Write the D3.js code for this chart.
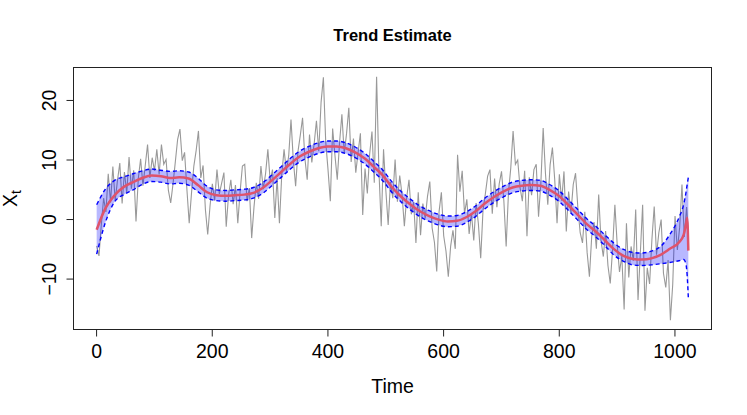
<!DOCTYPE html>
<meta charset="utf-8">
<style>
  body { margin: 0; background: #fff; }
  text { font-family: "Liberation Sans", Arial, Helvetica, sans-serif; fill: #000; }
</style>
<body>
<script src="https://d3js.org/d3.v7.min.js"></script>
<script>
// observed series, sampled every 4 time steps (last point at t = 1024)
var obsValues = [
  -4.5, -6.2, -1.0, 3.5, 1.2, 7.6, 2.8, 8.8, 3.1, 6.5, 9.4, 2.6, 7.9, 4.4, 10.4, 5.1,
  8.2, -0.4, 6.8, 10.1, 5.6, 9.0, 12.5, 6.9, 10.3, 8.1, 11.7, 7.5, 12.5, 9.2, 10.0, 4.8,
  2.7, 5.9, 9.6, 13.4, 15.1, 9.8, 11.2, 5.0, -0.7, 4.4, 8.9, 11.5, 14.8, 6.9, 9.0, 1.6,
  -2.6, 2.2, 5.9, 3.1, 8.3, 4.2, 6.0, 7.8, -1.3, 4.0, 6.6, 2.5, 5.7, -0.7, 4.6, 8.9,
  9.2, 3.0, 5.2, -3.2, 2.0, 6.1, 3.4, 8.9, 5.0, 7.6, 11.7, 6.4, 8.3, 0.2, 6.9, -0.7,
  7.4, 11.7, 8.0, 10.6, 16.7, 9.9, 5.5, 11.3, 14.0, 17.0, 10.2, 6.6, 14.2, 9.5, 12.6, 16.5,
  11.4, 19.6, 23.8, 13.0, 8.3, 3.0, 15.2, 10.7, 6.6, 12.9, 17.6, 11.0, 14.3, 18.7, 9.6, 13.5,
  7.8, 11.2, 14.4, 0.7, 8.5, 4.3, 10.9, 14.7, 6.1, 23.9, 8.2, -1.2, 11.7, 4.8, -1.0, 6.2,
  3.5, 10.0, 2.9, 7.3, 4.1, -1.2, 3.6, 6.6, 0.8, 2.9, -4.0, 4.5, -2.7, 2.6, 0.1, 3.8,
  6.3, -1.5, -3.9, -8.8, 1.2, 4.5, -2.8, -5.4, -9.7, -4.6, -1.9, -5.0, 10.8, 4.6, 8.1, 0.9,
  3.3, -2.5, 1.0, -3.6, 2.7, -0.8, -6.6, 1.5, 4.2, 7.2, 8.3, 0.9, 6.8, 2.0, 5.9, 8.0,
  3.1, -4.6, 4.4, 8.6, 14.8, 9.2, 9.9, 5.3, 3.0, 8.1, -2.9, 7.0, 4.0, 8.3, 9.2, 0.4,
  6.0, 15.3, 7.6, 2.4, 9.1, 12.0, 6.6, -0.7, 7.5, 3.1, 8.0, -2.1, 4.6, 1.0, 5.8, 7.7,
  1.9, -2.3, -4.0, 1.2, -5.6, -9.7, -2.8, -0.5, -5.0, 4.1, -3.6, -6.3, -2.0, -7.8, -10.8, -5.1,
  2.4, -4.3, -8.9, -6.2, -15.2, -0.7, -9.8, -4.6, -7.0, 1.6, -13.6, -5.7, 2.4, -15.4, -8.2, -10.9,
  -3.5, 2.1, -6.0, -2.3, -0.1, -9.1, -11.5, -6.9, -17.0, -11.0, 0.5, -5.2, -1.4, 5.8, -3.0, 2.0,
  -2.5
];
var obsTime = d3.range(1, 1022, 4).concat([1024]);

// trend estimate and its band
var trendTime = [1, 16, 32, 48, 64, 80, 96, 112, 128, 144, 160, 176, 192, 208, 224, 240,
  256, 272, 288, 304, 320, 336, 352, 368, 384, 400, 416, 432, 448, 464, 480, 496,
  512, 528, 544, 560, 576, 592, 608, 624, 640, 656, 672, 688, 704, 720, 736, 752,
  768, 784, 800, 816, 832, 848, 864, 880, 896, 912, 928, 944, 960, 976, 992, 1008,
  1016, 1020, 1022, 1024];
var trendValue = [-1.8, 1.8, 4.0, 5.4, 6.2, 6.9, 7.3, 7.2, 6.9, 7.0, 6.8, 5.7, 4.5, 4.0, 3.9, 4.0,
  4.1, 4.4, 5.2, 6.5, 7.9, 9.3, 10.5, 11.3, 11.9, 12.2, 12.2, 11.9, 11.2, 10.2, 8.8, 7.3,
  5.3, 3.7, 2.4, 1.3, 0.5, -0.1, -0.4, -0.3, 0.3, 1.3, 2.6, 3.7, 4.6, 5.3, 5.6, 5.7,
  5.6, 4.9, 3.9, 2.4, 0.8, -0.8, -2.1, -3.6, -5.1, -6.2, -6.7, -6.8, -6.6, -6.0, -5.0, -3.9,
  -2.6, -0.8, 0.2, -5.3];
var upperValue = [2.4, 5.0, 6.5, 7.1, 7.6, 8.1, 8.4, 8.2, 8.0, 8.1, 7.9, 6.9, 5.5, 4.9, 4.8, 4.9,
  5.0, 5.3, 6.1, 7.4, 8.8, 10.2, 11.4, 12.2, 12.8, 13.1, 13.1, 12.8, 12.1, 11.1, 9.7, 8.2,
  6.2, 4.6, 3.3, 2.2, 1.4, 0.8, 0.5, 0.6, 1.2, 2.2, 3.5, 4.6, 5.5, 6.2, 6.5, 6.6,
  6.5, 5.8, 4.8, 3.3, 1.7, 0.1, -1.2, -2.7, -4.1, -5.1, -5.6, -5.7, -5.4, -4.6, -2.6, 0.3,
  2.5, 4.5, 5.8, 7.0];
var lowerValue = [-5.9, -0.6, 2.9, 4.1, 4.9, 5.8, 6.3, 6.2, 5.9, 6.0, 5.7, 4.6, 3.5, 3.1, 3.0, 3.1,
  3.2, 3.5, 4.3, 5.6, 7.0, 8.4, 9.6, 10.4, 11.0, 11.3, 11.3, 11.0, 10.3, 9.3, 7.9, 6.4,
  4.4, 2.8, 1.5, 0.4, -0.4, -1.0, -1.3, -1.2, -0.6, 0.4, 1.7, 2.8, 3.7, 4.4, 4.7, 4.8,
  4.7, 4.0, 3.0, 1.5, -0.1, -1.7, -3.0, -4.5, -6.1, -7.1, -7.7, -7.8, -7.7, -7.5, -7.3, -7.0,
  -6.8, -7.6, -9.5, -13.2];

var xTicks = [0, 200, 400, 600, 800, 1000],
    yTicks = [-10, 0, 10, 20];

var W = 747, H = 415,
    box = {left: 73, right: 712, top: 67, bottom: 330};

var obs = obsTime.map(function(t, i) { return {t: t, v: obsValues[i]}; });
var smooth = trendTime.map(function(t, i) {
  return {t: t, v: trendValue[i], hi: upperValue[i], lo: lowerValue[i]};
});

// R style 4% padding on both axes
var xr = d3.extent(obsTime), xp = (xr[1] - xr[0]) * 0.04;
var yr = d3.extent(obsValues), yp = (yr[1] - yr[0]) * 0.04;
var x = d3.scaleLinear().domain([xr[0] - xp, xr[1] + xp]).range([box.left, box.right]);
var y = d3.scaleLinear().domain([yr[0] - yp, yr[1] + yp]).range([box.bottom, box.top]);

var svg = d3.select("body").append("svg")
    .attr("width", W)
    .attr("height", H);

svg.append("defs").append("clipPath")
    .attr("id", "clip")
  .append("rect")
    .attr("x", box.left)
    .attr("y", box.top)
    .attr("width", box.right - box.left)
    .attr("height", box.bottom - box.top);

var plot = svg.append("g").attr("clip-path", "url(#clip)");

plot.append("path")
    .datum(obs)
    .attr("fill", "none")
    .attr("stroke", "#999")
    .attr("stroke-width", 1.1)
    .attr("d", d3.line()
      .x(function(d) { return x(d.t); })
      .y(function(d) { return y(d.v); }));

plot.append("path")
    .datum(smooth)
    .attr("fill", "rgba(0,0,255,0.28)")
    .attr("stroke", "none")
    .attr("d", d3.area()
      .curve(d3.curveMonotoneX)
      .x(function(d) { return x(d.t); })
      .y0(function(d) { return y(d.lo); })
      .y1(function(d) { return y(d.hi); }));

plot.append("path")
    .datum(smooth)
    .attr("fill", "none")
    .attr("stroke", "#DF536B")
    .attr("stroke-width", 2.5)
    .attr("stroke-linejoin", "round")
    .attr("d", d3.line()
      .curve(d3.curveMonotoneX)
      .x(function(d) { return x(d.t); })
      .y(function(d) { return y(d.v); }));

["hi", "lo"].forEach(function(k) {
  plot.append("path")
      .datum(smooth)
      .attr("fill", "none")
      .attr("stroke", "#0000ff")
      .attr("stroke-width", 1.4)
      .attr("stroke-dasharray", "4,3")
      .attr("d", d3.line()
        .curve(d3.curveMonotoneX)
        .x(function(d) { return x(d.t); })
        .y(function(d) { return y(d[k]); }));
});

// box
svg.append("rect")
    .attr("x", box.left + 0.5)
    .attr("y", box.top + 0.5)
    .attr("width", box.right - box.left - 1)
    .attr("height", box.bottom - box.top - 1)
    .attr("fill", "none")
    .attr("stroke", "#222")
    .attr("stroke-width", 1);

// x axis
var gx = svg.append("g")
    .attr("transform", "translate(0," + (box.bottom - 0.5) + ")")
    .call(d3.axisBottom(x).tickValues(xTicks).tickSize(7).tickPadding(8).tickFormat(d3.format("d")));
gx.select(".domain").attr("d", "M" + x(xTicks[0]) + ",0H" + x(xTicks[xTicks.length - 1])).attr("stroke", "#222");
gx.selectAll(".tick line").attr("stroke", "#222");
gx.selectAll("text").style("font-size", "19.5px").attr("fill", "#000");

// y axis, labels rotated like R
var gy = svg.append("g")
    .attr("transform", "translate(" + (box.left + 0.5) + ",0)")
    .call(d3.axisLeft(y).tickValues(yTicks).tickSize(7).tickFormat(""));
gy.select(".domain").attr("d", "M0," + y(yTicks[0]) + "V" + y(yTicks[yTicks.length - 1])).attr("stroke", "#222");
gy.selectAll(".tick line").attr("stroke", "#222");
gy.selectAll(".tick").append("text")
    .attr("transform", "translate(-18,0) rotate(-90)")
    .attr("text-anchor", "middle")
    .attr("fill", "#000")
    .style("font-size", "19.5px")
    .text(function(d) { return d3.format("d")(d).replace("-", "\u2212"); });

// titles
svg.append("text")
    .attr("x", (box.left + box.right) / 2)
    .attr("y", 41)
    .attr("text-anchor", "middle")
    .style("font-size", "16.5px")
    .style("font-weight", "bold")
    .text("Trend Estimate");

svg.append("text")
    .attr("x", (box.left + box.right) / 2)
    .attr("y", 393)
    .attr("text-anchor", "middle")
    .style("font-size", "19.5px")
    .text("Time");

var yl = svg.append("text")
    .attr("transform", "translate(17," + ((box.top + box.bottom) / 2) + ") rotate(-90)")
    .attr("text-anchor", "middle")
    .style("font-size", "19.5px");
yl.append("tspan").text("X");
yl.append("tspan").attr("dy", 4).style("font-size", "14px").text("t");
</script>
